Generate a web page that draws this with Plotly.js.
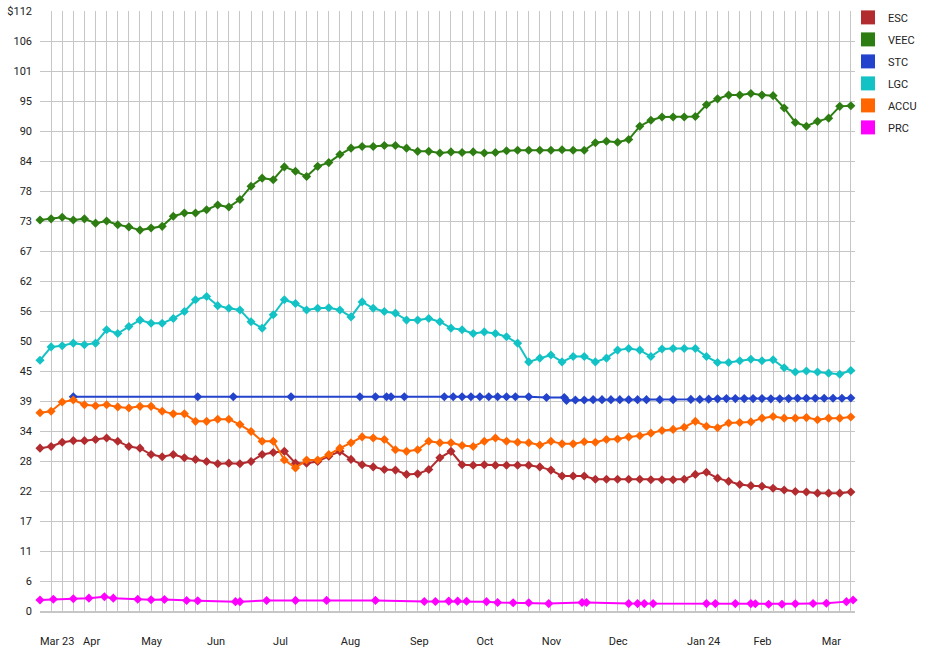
<!DOCTYPE html>
<html>
<head>
<meta charset="utf-8">
<script src="https://cdn.plot.ly/plotly-3.0.1.min.js"></script>
<style>html,body{margin:0;padding:0;background:#fff;}#chart{width:945px;height:650px;}</style>
</head>
<body>
<div id="chart"></div>
<script>
// Shared sampling dates (every 5 days)
const dates = [
 '2023-03-14','2023-03-19','2023-03-24','2023-03-29','2023-04-03','2023-04-08','2023-04-13','2023-04-18','2023-04-23','2023-04-28',
 '2023-05-03','2023-05-08','2023-05-13','2023-05-18','2023-05-23','2023-05-28','2023-06-02','2023-06-07','2023-06-12','2023-06-17',
 '2023-06-22','2023-06-27','2023-07-02','2023-07-07','2023-07-12','2023-07-17','2023-07-22','2023-07-27','2023-08-01','2023-08-06',
 '2023-08-11','2023-08-16','2023-08-21','2023-08-26','2023-08-31','2023-09-05','2023-09-10','2023-09-15','2023-09-20','2023-09-25',
 '2023-09-30','2023-10-05','2023-10-10','2023-10-15','2023-10-20','2023-10-25','2023-10-30','2023-11-04','2023-11-09','2023-11-14',
 '2023-11-19','2023-11-24','2023-11-29','2023-12-04','2023-12-09','2023-12-14','2023-12-19','2023-12-24','2023-12-29','2024-01-03',
 '2024-01-08','2024-01-13','2024-01-18','2024-01-23','2024-01-28','2024-02-02','2024-02-07','2024-02-12','2024-02-17','2024-02-22',
 '2024-02-27','2024-03-03','2024-03-08','2024-03-13'
];

const veec = [
 73.0,73.2,73.5,73.0,73.2,72.4,72.8,72.1,71.7,71.1,
 71.5,71.8,73.7,74.3,74.3,74.9,75.8,75.4,76.8,79.3,
 80.8,80.5,82.9,82.1,81.1,83.0,83.7,85.2,86.4,86.7,
 86.7,86.9,86.9,86.4,85.8,85.8,85.5,85.7,85.6,85.7,
 85.5,85.6,85.9,86.0,86.0,86.0,86.0,86.1,86.0,86.0,
 87.4,87.7,87.5,88.0,90.5,91.6,92.2,92.2,92.2,92.3,
 94.5,95.6,96.3,96.3,96.6,96.3,96.2,93.9,91.2,90.5,
 91.4,92.0,94.2,94.3
];

const lgc = [
 46.8,49.3,49.5,50.0,49.7,50.0,52.5,51.8,53.1,54.3,
 53.7,53.7,54.6,55.9,58.1,58.7,57.0,56.5,56.2,54.0,
 52.8,55.3,58.1,57.4,56.2,56.5,56.6,56.2,54.9,57.7,
 56.5,55.9,55.6,54.3,54.3,54.6,54.0,52.8,52.5,51.8,
 52.1,51.8,51.2,50.0,46.5,47.2,47.8,46.5,47.5,47.5,
 46.5,47.2,48.7,49.0,48.7,47.5,48.9,49.0,49.0,49.0,
 47.5,46.4,46.4,46.7,47.0,46.7,46.9,45.4,44.6,44.8,
 44.6,44.4,44.2,44.9
];

const accu = [
 37.0,37.3,39.0,39.4,38.5,38.3,38.5,38.1,37.9,38.2,
 38.2,37.3,36.8,36.8,35.4,35.4,35.8,35.8,34.8,33.5,
 31.7,31.7,28.2,26.7,28.2,28.2,29.2,30.4,31.4,32.5,
 32.3,32.0,30.1,29.8,30.1,31.7,31.4,31.4,30.9,30.7,
 31.7,32.3,31.7,31.5,31.4,31.0,31.7,31.2,31.2,31.6,
 31.5,32.0,32.1,32.5,32.7,33.2,33.7,33.9,34.3,35.4,
 34.5,34.2,35.1,35.2,35.3,36.0,36.3,36.0,36.0,36.1,
 35.7,36.0,36.0,36.2
];

const esc = [
 30.4,30.7,31.5,31.8,31.8,32.0,32.3,31.7,30.7,30.4,
 29.2,28.8,29.2,28.6,28.3,27.9,27.5,27.6,27.5,27.9,
 29.2,29.6,29.8,27.6,27.6,27.9,28.9,29.8,28.3,27.3,
 26.9,26.4,26.3,25.5,25.6,26.4,28.6,29.8,27.3,27.2,
 27.3,27.2,27.2,27.2,27.2,26.9,26.3,25.2,25.2,25.2,
 24.6,24.6,24.6,24.6,24.6,24.5,24.5,24.5,24.6,25.5,
 25.9,24.8,24.2,23.6,23.4,23.3,22.9,22.6,22.3,22.2,
 22.0,22.0,22.0,22.2
];

const stcDates = [
 '2023-03-29','2023-05-24','2023-06-09','2023-07-05','2023-08-05','2023-08-12','2023-08-17','2023-08-19','2023-08-25',
 '2023-09-12','2023-09-16','2023-09-20','2023-09-24','2023-09-28','2023-10-02','2023-10-06','2023-10-10','2023-10-14','2023-10-20',
 '2023-10-28','2023-11-05','2023-11-06','2023-11-10','2023-11-14','2023-11-18','2023-11-22','2023-11-26','2023-11-30','2023-12-04',
 '2023-12-08','2023-12-12','2023-12-18','2023-12-24','2024-01-01','2024-01-05','2024-01-09','2024-01-13','2024-01-17','2024-01-21',
 '2024-01-25','2024-01-29','2024-02-02','2024-02-06','2024-02-10','2024-02-14','2024-02-18','2024-02-22','2024-02-26','2024-03-01',
 '2024-03-05','2024-03-09','2024-03-13'
];
const stc = [
 40.0,40.0,40.0,40.0,40.0,40.0,40.0,40.0,40.0,
 40.0,40.0,40.0,40.0,40.0,40.0,40.0,40.0,40.0,40.0,
 39.85,39.85,39.3,39.4,39.4,39.45,39.45,39.45,39.45,39.45,
 39.45,39.45,39.45,39.45,39.5,39.5,39.55,39.6,39.65,39.65,
 39.65,39.65,39.65,39.6,39.6,39.65,39.7,39.7,39.7,39.7,
 39.7,39.7,39.75
];

const prcDates = [
 '2023-03-14','2023-03-20','2023-03-29','2023-04-05','2023-04-12','2023-04-16','2023-04-27','2023-05-03','2023-05-09','2023-05-19',
 '2023-05-24','2023-06-10','2023-06-12','2023-06-24','2023-07-07','2023-07-21','2023-08-12','2023-09-03','2023-09-08','2023-09-14',
 '2023-09-18','2023-09-22','2023-10-01','2023-10-06','2023-10-13','2023-10-20','2023-10-29','2023-11-13','2023-11-15','2023-12-04',
 '2023-12-08','2023-12-11','2023-12-15','2024-01-08','2024-01-12','2024-01-21','2024-01-28','2024-01-30','2024-02-05','2024-02-11',
 '2024-02-17','2024-02-25','2024-03-02','2024-03-11','2024-03-14'
];
const prc = [
 2.05,2.2,2.3,2.4,2.65,2.4,2.2,2.1,2.15,1.95,
 1.9,1.75,1.75,1.95,1.98,1.98,1.98,1.78,1.78,1.85,
 1.85,1.82,1.75,1.6,1.55,1.55,1.38,1.6,1.6,1.38,
 1.38,1.38,1.38,1.38,1.38,1.38,1.38,1.35,1.25,1.25,
 1.35,1.4,1.45,1.75,2.05
];

const seriesNames = ['ESC','VEEC','STC','LGC','ACCU','PRC'];
const seriesColors = ['#b22b2f','#2e7d13','#2343cc','#13c2c5','#ff6600','#ff00ff'];

const xTickVals = ['2023-03-21 18:00','2023-04-06 06:00','2023-05-03 06:00','2023-06-01 06:00','2023-06-30 06:00','2023-07-31 18:00',
 '2023-08-31 18:00','2023-09-30 06:00','2023-10-30 06:00','2023-11-29 06:00','2024-01-06 18:00','2024-02-02 06:00','2024-03-04 06:00'];
const xTickText = ['Mar 23','Apr','May','Jun','Jul','Aug','Sep','Oct','Nov','Dec','Jan 24','Feb','Mar'];

const yTickVals = [0,5.6,11.2,16.8,22.4,28,33.6,39.2,44.8,50.4,56,61.6,67.2,72.8,78.4,84,89.6,95.2,100.8,106.4,112];
const yTickText = ['0','6','11','17','22','28','34','39','45','50','56','62','67','73','78','84','90','95','101','106','$112'];

const xs = [dates, dates, stcDates, dates, dates, prcDates];
const ys = [esc, veec, stc, lgc, accu, prc];

const traces = [];
for (let i = 0; i < seriesNames.length; i++) {
  traces.push({
    type: 'scatter', mode: 'lines+markers', name: seriesNames[i],
    x: xs[i], y: ys[i], showlegend: false, cliponaxis: false,
    line: {color: seriesColors[i], width: 2},
    marker: {symbol: 'diamond', size: 7, color: seriesColors[i]},
    hoverinfo: 'x+y+name'
  });
}
for (let i = 0; i < seriesNames.length; i++) {
  traces.push({
    type: 'scatter', mode: 'markers', name: seriesNames[i],
    x: [null], y: [null], showlegend: true, legendgroup: 'g' + i,
    marker: {symbol: 'square', size: 14, color: seriesColors[i]}
  });
}

const layout = {
  width: 945, height: 650,
  margin: {l: 40, r: 90, t: 11, b: 39, autoexpand: false},
  paper_bgcolor: '#ffffff', plot_bgcolor: '#ffffff',
  font: {family: 'Roboto, Arial, sans-serif', size: 11, color: '#222222'},
  showlegend: true,
  legend: {x: 0.9914, xanchor: 'left', y: 1.0135, yanchor: 'top', tracegroupgap: 3,
           font: {family: 'Roboto, Arial, sans-serif', size: 11, color: '#222222'},
           itemsizing: 'trace', bgcolor: 'rgba(0,0,0,0)'},
  xaxis: {
    type: 'date', range: ['2023-03-14', '2024-03-14 21:00'],
    tickmode: 'array', tickvals: xTickVals, ticktext: xTickText,
    showgrid: false, ticks: '', ticklabelstandoff: 19,
    showline: true, linecolor: '#c6c6c6', linewidth: 2,
    zeroline: false, fixedrange: true,
    minor: {tickmode: 'linear', tick0: '2023-03-14', dtick: 432000000, showgrid: true,
            gridcolor: '#c6c6c6', gridwidth: 1, ticks: ''}
  },
  yaxis: {
    range: [0, 112], tickmode: 'array', tickvals: yTickVals, ticktext: yTickText,
    showgrid: true, gridcolor: '#c6c6c6', gridwidth: 1,
    zeroline: false, showline: false, ticks: '', ticklabelstandoff: 7, fixedrange: true
  }
};

Plotly.newPlot('chart', traces, layout, {displayModeBar: false, staticPlot: true});
</script>
</body>
</html>
